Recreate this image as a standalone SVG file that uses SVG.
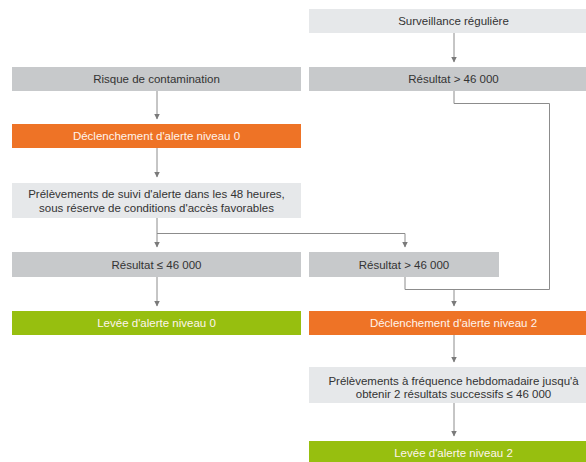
<svg xmlns="http://www.w3.org/2000/svg" width="586" height="462" viewBox="0 0 586 462">
<defs>
<style>
.bg{fill:#ffffff}
.dk{fill:#c7c9cb}
.lt{fill:#e6e8ea}
.or{fill:#ee7326}
.gr{fill:#97bf0f}
text{font-family:"Liberation Sans",Arial,Helvetica,sans-serif;font-size:11.5px;text-anchor:middle}
.t{fill:#333333}
.w{fill:#fff4ec}
.c{fill:none;stroke:#8c8c8c;stroke-width:1}
</style>
<marker id="ah" markerUnits="userSpaceOnUse" markerWidth="6" markerHeight="6" refX="5.5" refY="3" orient="auto">
<path d="M0,0 L6,3 L0,6 z" fill="#7a7a7a"/>
</marker>
</defs>
<rect class="bg" x="0" y="0" width="586" height="462"/>
<g id="connectors">
<line class="c" x1="454" y1="33" x2="454" y2="62" marker-end="url(#ah)"/>
<line class="c" x1="157" y1="91" x2="157" y2="119" marker-end="url(#ah)"/>
<line class="c" x1="157" y1="148" x2="157" y2="177" marker-end="url(#ah)"/>
<line class="c" x1="157" y1="218" x2="157" y2="247" marker-end="url(#ah)"/>
<polyline class="c" points="157,233.5 405,233.5 405,247" marker-end="url(#ah)"/>
<line class="c" x1="157" y1="277" x2="157" y2="306" marker-end="url(#ah)"/>
<polyline class="c" points="454,91 454,103.5 549.5,103.5 549.5,289.5 405,289.5 405,277"/>
<line class="c" x1="454" y1="289.5" x2="454" y2="306" marker-end="url(#ah)"/>
<line class="c" x1="454" y1="335" x2="454" y2="362" marker-end="url(#ah)"/>
<line class="c" x1="454" y1="403" x2="454" y2="436" marker-end="url(#ah)"/>
</g>
<g id="n1">
<rect class="lt" x="309" y="9" width="289" height="24"/>
<text class="t" x="453.5" y="25">Surveillance régulière</text>
</g>
<g id="n2">
<rect class="dk" x="12" y="67" width="289" height="24"/>
<text class="t" x="156.5" y="83">Risque de contamination</text>
</g>
<g id="n3">
<rect class="dk" x="309" y="67" width="289" height="24"/>
<text class="t" x="453.5" y="83">Résultat &gt; 46 000</text>
</g>
<g id="n4">
<rect class="or" x="12" y="124" width="289" height="24"/>
<text class="w" x="156.5" y="140">Déclenchement d'alerte niveau 0</text>
</g>
<g id="n5">
<rect class="lt" x="12" y="183" width="289" height="35"/>
<text class="t" x="156.5" y="198">Prélèvements de suivi d'alerte dans les 48 heures,</text>
<text class="t" x="156.5" y="212">sous réserve de conditions d'accès favorables</text>
</g>
<g id="n6">
<rect class="dk" x="12" y="252" width="289" height="25"/>
<text class="t" x="156.5" y="268.5">Résultat ≤ 46 000</text>
</g>
<g id="n7">
<rect class="dk" x="309" y="252" width="190" height="25"/>
<text class="t" x="404" y="268.5">Résultat &gt; 46 000</text>
</g>
<g id="n8">
<rect class="gr" x="12" y="311" width="289" height="24"/>
<text class="w" x="156.5" y="327">Levée d'alerte niveau 0</text>
</g>
<g id="n9">
<rect class="or" x="309" y="311" width="289" height="24"/>
<text class="w" x="453.5" y="327">Déclenchement d'alerte niveau 2</text>
</g>
<g id="n10">
<rect class="lt" x="309" y="367" width="289" height="36"/>
<text class="t" x="453.5" y="385">Prélèvements à fréquence hebdomadaire jusqu'à</text>
<text class="t" x="453.5" y="398">obtenir 2 résultats successifs ≤ 46 000</text>
</g>
<g id="n11">
<rect class="gr" x="309" y="441" width="289" height="24"/>
<text class="w" x="453.5" y="457">Levée d'alerte niveau 2</text>
</g>
</svg>
